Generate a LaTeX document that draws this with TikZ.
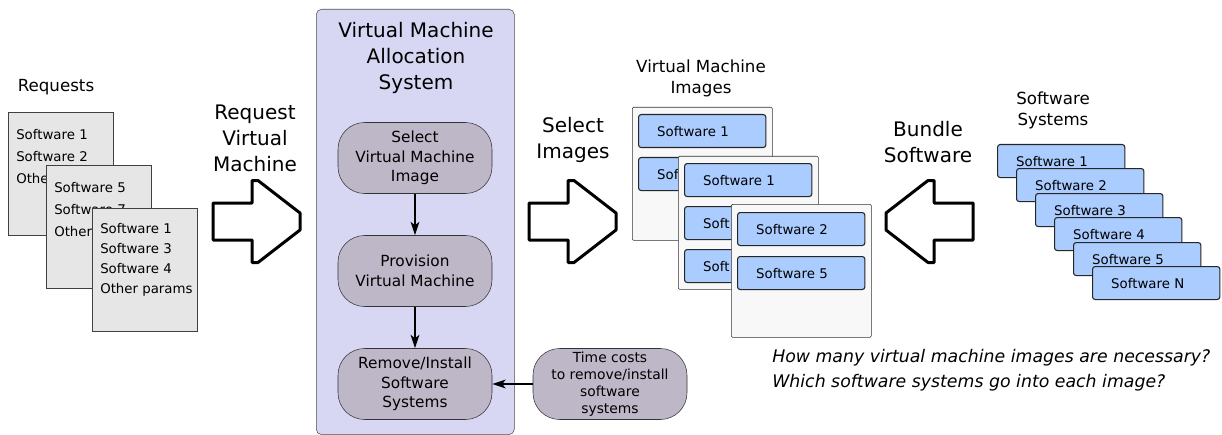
\documentclass[tikz,border=0pt]{standalone}
\usepackage{fontspec}
\setmainfont{DejaVu Sans}
\usetikzlibrary{arrows.meta}

\definecolor{panelblue}{RGB}{215,215,244}
\definecolor{stepgray}{RGB}{190,183,200}
\definecolor{swblue}{RGB}{170,204,255}
\definecolor{sheetgray}{RGB}{230,230,230}
\definecolor{imagegray}{RGB}{248,248,248}

\tikzset{
	sheet/.style={draw=black!75, fill=sheetgray, anchor=north west, inner sep=0pt,
		minimum width=79pt, minimum height=92pt},
	sheettext/.style={anchor=north west, inner sep=0pt, align=left,
		font=\fontsize{10}{16.5}\selectfont},
	panel/.style={draw=black!70, fill=panelblue, rounded corners=4pt, anchor=north west,
		inner sep=0pt, minimum width=148.5pt, minimum height=319pt},
	procstep/.style={draw=black!80, fill=stepgray, rounded corners=20pt, align=center,
		inner sep=0pt, minimum width=115.5pt, minimum height=53.25pt,
		font=\fontsize{11.5}{14.6}\selectfont},
	imgbox/.style={draw=black!80, fill=imagegray, rounded corners=1pt, anchor=north west,
		inner sep=0pt, minimum width=105pt, minimum height=99.75pt},
	swbox/.style={draw=black!85, fill=swblue, rounded corners=2pt, anchor=north west,
		line width=0.8pt, text width=67.5pt, inner xsep=14pt, inner ysep=0pt,
		minimum height=24.75pt, align=left, font=\fontsize{10}{12}\selectfont},
	bigtitle/.style={align=center, inner sep=0pt, font=\fontsize{15}{19.5}\selectfont},
	midtitle/.style={align=center, inner sep=0pt, font=\fontsize{12.5}{15.75}\selectfont},
	flow/.style={-{Stealth[length=10pt,width=6.5pt,inset=2.5pt]}, line width=1.3pt},
	fatarrow/.pic={
		\draw[line width=2.25pt, line join=round, fill=white]
			(0,-18.5) -- (39,-18.5) -- (39,-41) -- (45,-41) -- (87,-8.5) -- (87,8.5)
			-- (45,41) -- (39,41) -- (39,18.5) -- (0,18.5) -- cycle;
	}
}

\begin{document}
\begin{tikzpicture}[x=0.75pt,y=-0.75pt]
	\useasboundingbox (0,0) rectangle (1222,435);
	
	% requests
	\node[midtitle] (requests) at (56,87) {Requests};
	\node[sheet] (req1) at (8,112) {};
	\node[sheettext] at ([shift={(8,17)}]req1.north west) {Software 1\\Software 2\\Other};
	\node[sheet] (req2) at (46,165) {};
	\node[sheettext] at ([shift={(8,17)}]req2.north west) {Software 5\\Software 7\\Other};
	\node[sheet] (req3) at (92,208) {};
	\node[sheettext, font=\fontsize{10}{15}\selectfont] at ([shift={(8,15)}]req3.north west)
		{Software 1\\Software 3\\Software 4\\Other params};
	
	\node[bigtitle] (reqvm) at (255,138) {Request\\Virtual\\Machine};
	\pic at (213,221.5) {fatarrow};
	
	% allocation system
	\node[panel] (alloc) at (316,9) {};
	\node[bigtitle] (alloctitle) at (416,57.5) {Virtual Machine\\Allocation\\System};
	\node[procstep] (select) at (415,158) {Select\\Virtual Machine\\Image};
	\node[procstep] (provision) at (415,271) {Provision\\Virtual Machine};
	\node[procstep] (remove) at (415,384) {Remove/Install\\Software\\Systems};
	\node[procstep, font=\fontsize{10.4}{12.75}\selectfont] (timecost) at (610,384)
		{Time costs\\to remove/install\\software\\systems};
	
	\draw[flow] (select) -- (provision);
	\draw[flow] (provision) -- (remove);
	\draw[flow] (timecost) -- (remove);
	
	\node[bigtitle] (selimg) at (573,140) {Select\\Images};
	\pic at (529,221.5) {fatarrow};
	
	% images
	\node[midtitle] (images) at (701,78) {Virtual Machine\\Images};
	\node[imgbox] (imgA) at (632,107) {};
	\node[swbox] (imgA1) at ([shift={(6,7)}]imgA.north west) {Software 1};
	\node[swbox] (imgA2) at ([shift={(6,50)}]imgA.north west) {Sof};
	\node[imgbox] (imgB) at (678,156) {};
	\node[swbox] (imgB1) at ([shift={(6,7)}]imgB.north west) {Software 1};
	\node[swbox] (imgB2) at ([shift={(6,50)}]imgB.north west) {Soft};
	\node[swbox] (imgB3) at ([shift={(6,93)}]imgB.north west) {Soft};
	\node[imgbox] (imgC) at (731,204) {};
	\node[swbox] (imgC1) at ([shift={(6,8)}]imgC.north west) {Software 2};
	\node[swbox] (imgC2) at ([shift={(6,52)}]imgC.north west) {Software 5};
	
	\node[bigtitle] (bundle) at (928,142) {Bundle\\Software};
	\pic[xscale=-1] at (973,221.5) {fatarrow};
	
	% software systems
	\node[midtitle] (systems) at (1053,110) {Software\\Systems};
	\node[swbox] (sw1) at (997,144) {Software 1};
	\node[swbox] (sw2) at (1016,168) {Software 2};
	\node[swbox] (sw3) at (1035,193) {Software 3};
	\node[swbox] (sw4) at (1054,217) {Software 4};
	\node[swbox] (sw5) at (1073,242) {Software 5};
	\node[swbox] (swN) at (1092,266) {Software N};
	
	\node[anchor=west, align=left, inner sep=0pt, font=\fontsize{13}{18.75}\selectfont\itshape]
		(question) at (772,370) {How many virtual machine images are necessary?\\Which software systems go into each image?};
\end{tikzpicture}
\end{document}
